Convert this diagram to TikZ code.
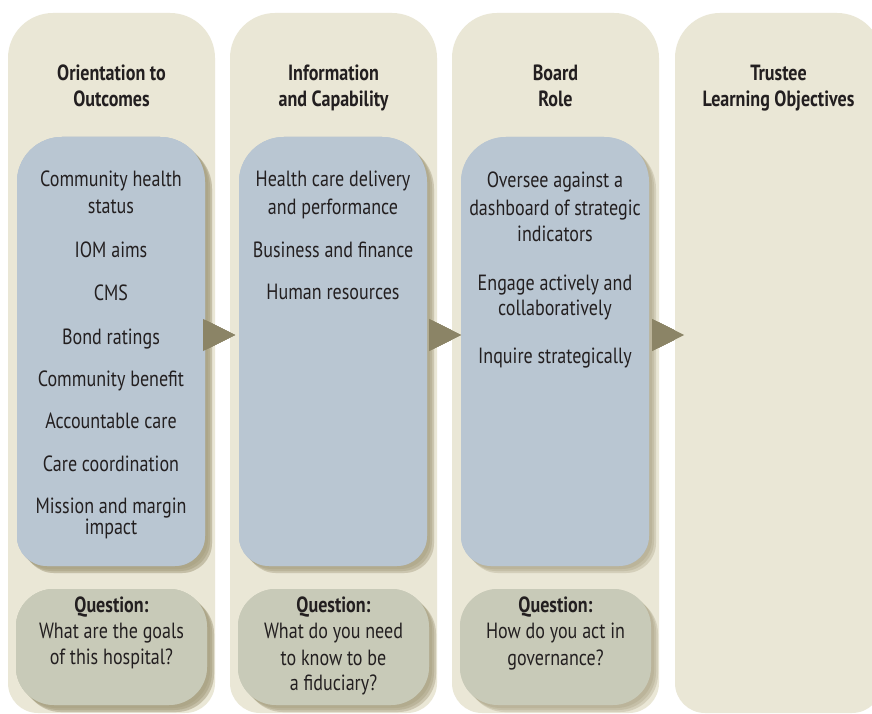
\documentclass[tikz,border=0pt]{standalone}
\usepackage{fontspec}
\setmainfont[FakeStretch=0.82]{PT Sans}
\usetikzlibrary{positioning}

\definecolor{panelbeige}{HTML}{EAE7D6}
\definecolor{listblue}{HTML}{B9C6D2}
\definecolor{askgreen}{HTML}{C8CAB8}
\definecolor{shadowtan}{HTML}{A9A283}
\definecolor{arrowbrown}{HTML}{8B8466}
\definecolor{inkgray}{HTML}{231F20}

% rounded panel: left, bottom, right, top, top radius, bottom radius, style
\newcommand{\panel}[7]{%
  \fill[#7] (#1,#2+#6) -- (#1,#4-#5)
    arc[start angle=180,end angle=90,radius=#5] -- (#3-#5,#4)
    arc[start angle=90,end angle=0,radius=#5] -- (#3,#2+#6)
    arc[start angle=0,end angle=-90,radius=#6] -- (#1+#6,#2)
    arc[start angle=270,end angle=180,radius=#6] -- cycle;}

\begin{document}
\begin{tikzpicture}[x=1pt,y=1pt,
    item/.style={font=\fontsize{22}{26}\selectfont,text=inkgray,anchor=base,inner sep=0pt},
    head/.style={item,font=\fontsize{22}{26}\selectfont\bfseries},
    softshadow/.style={fill=shadowtan,opacity=0.18}]
  \useasboundingbox (0,0) rectangle (872,713);
  \clip (0,0) rectangle (872,713);
  \fill[white] (0,0) rectangle (872,713);

  % columns
  \foreach \x in {8,230,452,675}
    \panel{\x}{0}{\x+207}{700}{45}{30}{panelbeige}
  % boxes with soft shadows
  \foreach \x in {8,230,452} {
    \foreach \s in {3,5,7} {
      \panel{\x+9+\s}{147-\s}{\x+197+\s}{576-\s}{45}{30}{softshadow}
      \panel{\x+8+\s}{8-\s}{\x+199+\s}{124-\s}{38}{38}{softshadow}
    }
    \panel{\x+9}{147}{\x+197}{576}{45}{30}{listblue}
    \panel{\x+8}{8}{\x+199}{124}{38}{38}{askgreen}
  }
  % arrows between columns
  \foreach \tip in {235,461,684}
    \fill[arrowbrown] (\tip,378) -- ++(-32,16) -- ++(0,-32) -- cycle;

  % headings
  \foreach \t/\cx/\b [count=\n] in {Orientation to/111.5/632, Outcomes/111.5/606,
      Information/333.5/632, and Capability/333.5/606,
      Board/555.5/632, Role/555.5/606,
      Trustee/778.5/632, Learning Objectives/778.5/606}
    \node[head] (head\n) at (\cx,\b) {\t};

  % first column list
  \foreach \t/\b [count=\n] in {Community health/526, status/499, IOM aims/455,
      CMS/412, Bond ratings/369, Community benefit/327, Accountable care/285,
      Care coordination/242, Mission and margin/200, impact/179}
    \node[item] (outc\n) at (111,\b) {\t};

  % second column list
  \foreach \t/\b [count=\n] in {Health care delivery/526, and performance/498,
      Business and finance/455, Human resources/413}
    \node[item] (info\n) at (333,\b) {\t};

  % third column list
  \foreach \t/\b [count=\n] in {Oversee against a/525, dashboard of strategic/497,
      indicators/471, Engage actively and/422, collaboratively/397,
      Inquire strategically/350}
    \node[item] (role\n) at (555,\b) {\t};

  % questions
  \foreach \cx/\n in {111.5/1,333.5/2,555.5/3}
    \node[head] (ask\n) at (\cx,101) {Question:};
  \foreach \t/\cx/\b [count=\n] in {What are the goals/111.5/75, of this hospital?/111.5/49,
      What do you need/333.5/75, to know to be/333.5/48, a fiduciary?/333.5/23,
      How do you act in/555.5/75, governance?/555.5/48}
    \node[item] (line\n) at (\cx,\b) {\t};
\end{tikzpicture}
\end{document}
